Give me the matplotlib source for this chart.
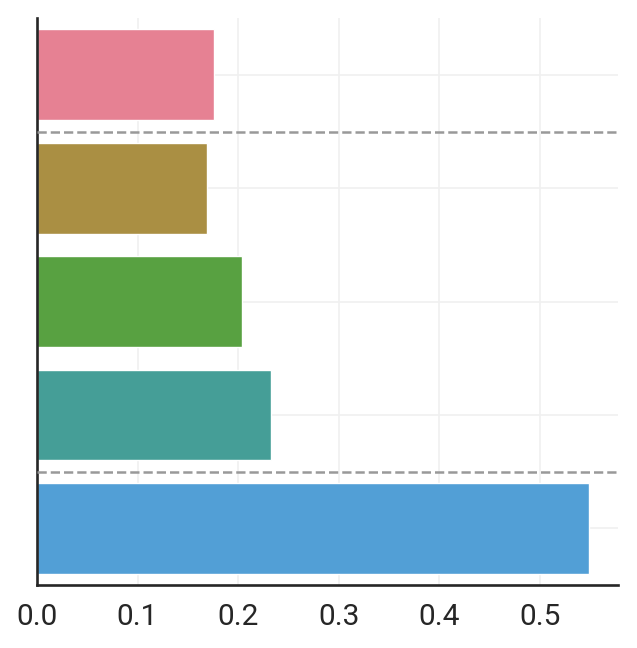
import matplotlib
matplotlib.use("Agg")
import matplotlib.pyplot as plt
import seaborn as sns

categories = ["A", "B", "C", "D", "E"]
values = [0.176, 0.169, 0.204, 0.233, 0.549]
separators = [0.5, 3.5]
xticks = [0.0, 0.1, 0.2, 0.3, 0.4, 0.5]

plt.rcParams['font.family'] = ['Roboto', 'DejaVu Sans']

pal = sns.color_palette("husl", 6)[:5]
colors = [sns.desaturate(c, 0.75) for c in pal]

fig = plt.figure(figsize=(6.37, 6.48), dpi=100)
ax = fig.add_axes([0.058, 0.097, 0.912, 0.875])

ypos = list(range(len(categories)))
ax.barh(ypos, values, height=0.8, color=colors, edgecolor="white", linewidth=1, zorder=2)
for s in separators:
    ax.axhline(s, color="#999999", linestyle="--", linewidth=1.8, zorder=3)

ax.set_ylim(4.5, -0.5)
ax.set_xlim(0, max(values) * 1.052)
ax.set_yticks(ypos)
ax.set_yticklabels([])
ax.set_xticks(xticks)
ax.set_xticklabels([f"{t:.1f}" for t in xticks])
ax.tick_params(axis="both", length=0, labelsize=21.5, colors="#262626", pad=13)
ax.grid(True, color="#f0f0f0", linewidth=1.2, zorder=0)
ax.set_axisbelow(True)
for sp in ["top", "right"]:
    ax.spines[sp].set_visible(False)
for sp in ["left", "bottom"]:
    ax.spines[sp].set_linewidth(1.9)
    ax.spines[sp].set_color("#262626")

fig.savefig("out.png", dpi=100, facecolor="white")
